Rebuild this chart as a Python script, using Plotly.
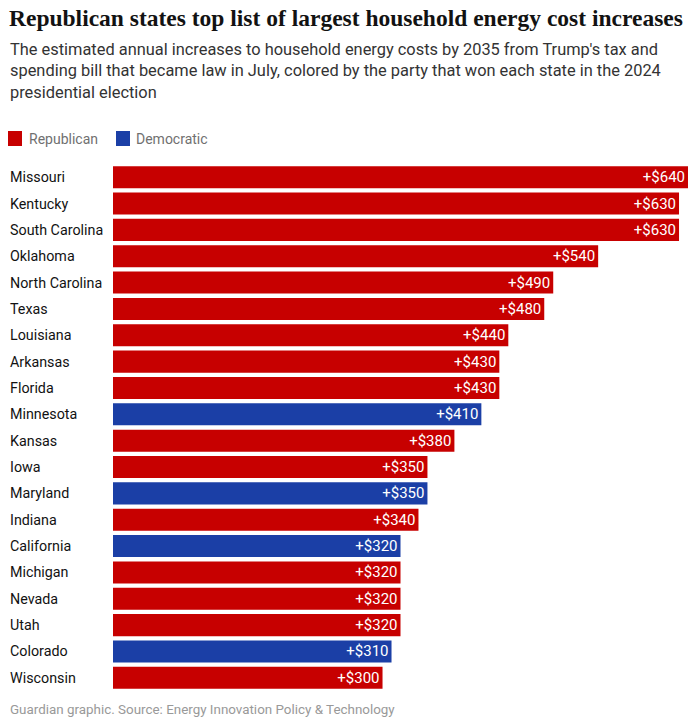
import plotly.graph_objects as go

states = ["Missouri", "Kentucky", "South Carolina", "Oklahoma", "North Carolina", "Texas",
          "Louisiana", "Arkansas", "Florida", "Minnesota", "Kansas", "Iowa", "Maryland",
          "Indiana", "California", "Michigan", "Nevada", "Utah", "Colorado", "Wisconsin"]
increase = [640, 630, 630, 540, 490, 480, 440, 430, 430, 410, 380, 350, 350, 340,
            320, 320, 320, 320, 310, 300]
party = ["R", "R", "R", "R", "R", "R", "R", "R", "R", "D", "R", "R", "D", "R",
         "D", "R", "R", "R", "D", "R"]
party_names = {"R": "Republican", "D": "Democratic"}
party_colors = {"R": "#c70000", "D": "#1b3fa6"}

W, H = 699, 727
ML, MR, MT, MB = 113, 11, 164, 36
PW, PH = W - ML - MR, H - MT - MB

def px(x):
    return (x - ML) / PW

def py(y):
    return (H - MB - y) / PH

fig = go.Figure()
fig.add_trace(go.Bar(
    x=increase, y=states, orientation="h",
    marker=dict(color=[party_colors[p] for p in party], line=dict(width=0)),
    text=[f"+${v}" for v in increase],
    textposition="inside", insidetextanchor="end",
    textfont=dict(color="white", size=15, family="Roboto"),
    cliponaxis=False, hoverinfo="skip",
))

annotations = []
for s in states:
    annotations.append(dict(x=px(8), xref="paper", y=s, yref="y", text=s,
                            showarrow=False, xanchor="left", yanchor="middle",
                            font=dict(size=14.3, color="#121212", family="Roboto")))

annotations.append(dict(x=px(7), y=py(18), xref="paper", yref="paper",
                        text="<b>Republican states top list of largest household energy cost increases</b>",
                        showarrow=False, xanchor="left", yanchor="middle",
                        font=dict(size=23.5, color="#121212", family="Liberation Serif")))
annotations.append(dict(x=px(8), y=py(71.5), xref="paper", yref="paper",
                        text="The estimated annual increases to household energy costs by 2035 from Trump's tax and<br>"
                             "spending bill that became law in July, colored by the party that won each state in the 2024<br>"
                             "presidential election",
                        showarrow=False, xanchor="left", yanchor="middle", align="left",
                        font=dict(size=16.4, color="#333333", family="Roboto")))
annotations.append(dict(x=px(8), y=py(709), xref="paper", yref="paper",
                        text="Guardian graphic. Source: Energy Innovation Policy & Technology",
                        showarrow=False, xanchor="left", yanchor="middle",
                        font=dict(size=13.4, color="#999999", family="Roboto")))

shapes = []
legend_items = [("R", 8, 27), ("D", 116, 134)]
for p, sx, tx in legend_items:
    shapes.append(dict(type="rect", xref="paper", yref="paper",
                       x0=px(sx), x1=px(sx + 14), y0=py(146), y1=py(131),
                       fillcolor=party_colors[p], line=dict(width=0)))
    annotations.append(dict(x=px(tx), y=py(138.5), xref="paper", yref="paper",
                            text=party_names[p], showarrow=False, xanchor="left", yanchor="middle",
                            font=dict(size=14, color="#707070", family="Roboto")))

fig.update_layout(
    width=W, height=H,
    margin=dict(l=ML, r=MR, t=MT, b=MB, pad=0),
    paper_bgcolor="white", plot_bgcolor="white",
    showlegend=False, bargap=0.165,
    xaxis=dict(range=[0, 640], visible=False, fixedrange=True),
    yaxis=dict(categoryorder="array", categoryarray=states, autorange="reversed",
               showticklabels=False, showgrid=False, zeroline=False, showline=False,
               ticks="", fixedrange=True),
    annotations=annotations, shapes=shapes,
    uniformtext=dict(minsize=14, mode="show"),
)

fig.write_html("out.html", config={"displayModeBar": False},
               post_script="document.body.style.margin='0';document.body.style.overflow='hidden';")
